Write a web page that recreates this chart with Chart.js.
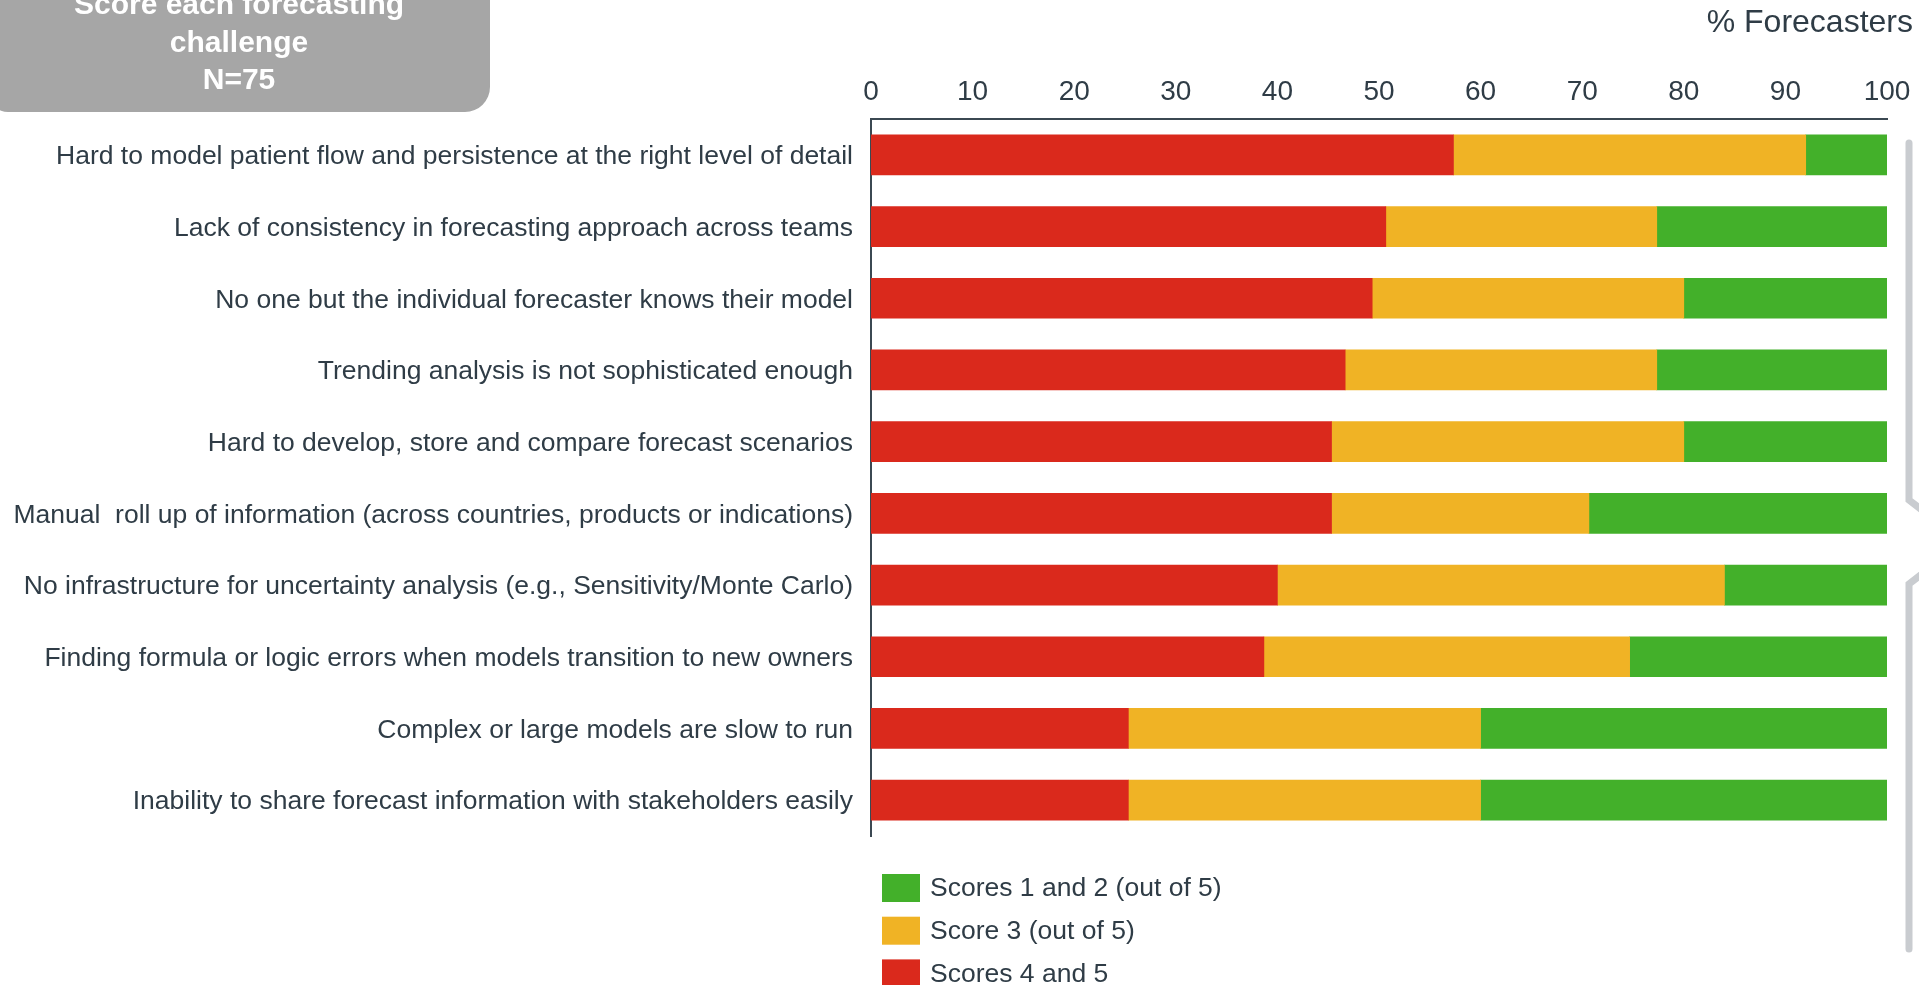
<!DOCTYPE html>
<html>
<head>
<meta charset="utf-8">
<title>Forecasting challenges</title>
<script src="https://cdn.jsdelivr.net/npm/chart.js@4.4.1/dist/chart.umd.min.js"></script>
<style>
  html, body { margin: 0; padding: 0; background: #ffffff; overflow: hidden; }
  #chart { display: block; }
</style>
</head>
<body>
<canvas id="chart" width="1919" height="985"></canvas>
<script>
// Survey data (N=75), % of forecasters per score band
const challenges = [
  'Hard to model patient flow and persistence at the right level of detail',
  'Lack of consistency in forecasting approach across teams',
  'No one but the individual forecaster knows their model',
  'Trending analysis is not sophisticated enough',
  'Hard to develop, store and compare forecast scenarios',
  'Manual  roll up of information (across countries, products or indications)',
  'No infrastructure for uncertainty analysis (e.g., Sensitivity/Monte Carlo)',
  'Finding formula or logic errors when models transition to new owners',
  'Complex or large models are slow to run',
  'Inability to share forecast information with stakeholders easily'
];
const scores45 = [57.33, 50.67, 49.33, 46.67, 45.33, 45.33, 40.0, 38.67, 25.33, 25.33];
const score3 = [34.67, 26.67, 30.67, 30.67, 34.67, 25.33, 44.0, 36.0, 34.67, 34.67];
const scores12 = [8.0, 22.67, 20.0, 22.67, 20.0, 29.33, 16.0, 25.33, 40.0, 40.0];
const xTicks = [0, 10, 20, 30, 40, 50, 60, 70, 80, 90, 100];
const seriesNames = ['Scores 4 and 5', 'Score 3 (out of 5)', 'Scores 1 and 2 (out of 5)'];
const boxLines = ['Score each forecasting', 'challenge', 'N=75'];
const axisTitle = '% Forecasters';

const FONT = "'Liberation Sans', Arial, sans-serif";
const TEXT = '#2f3c46';
const AXIS = '#3b4852';
const RED = '#da291c';
const YELLOW = '#f0b325';
const GREEN = '#43b02a';

// Extra drawing: header box, axis title, legend and the side brace
const decorations = {
  id: 'decorations',
  afterDraw(chart) {
    const ctx = chart.ctx;
    ctx.save();

    // grey header box (top runs off the canvas)
    ctx.fillStyle = '#a6a6a6';
    ctx.beginPath();
    ctx.roundRect(-10, -40, 500, 152, [0, 0, 25, 18]);
    ctx.fill();
    ctx.fillStyle = '#ffffff';
    ctx.font = 'bold 30px ' + FONT;
    ctx.textAlign = 'center';
    ctx.textBaseline = 'alphabetic';
    boxLines.forEach((line, i) => {
      ctx.fillText(line, 239, 14 + i * 37.5);
    });

    // axis title, top right
    ctx.fillStyle = TEXT;
    ctx.font = '32px ' + FONT;
    ctx.textAlign = 'right';
    ctx.textBaseline = 'middle';
    ctx.fillText(axisTitle, 1913, 23);

    // legend, listed top to bottom in reverse stack order
    ctx.font = '26.5px ' + FONT;
    ctx.textAlign = 'left';
    const sets = chart.data.datasets.slice().reverse();
    sets.forEach((ds, i) => {
      const cy = 888 + i * 42.7;
      ctx.fillStyle = ds.backgroundColor;
      ctx.fillRect(882, cy - 14, 38, 28);
      ctx.fillStyle = TEXT;
      ctx.fillText(ds.label, 930, cy + 1);
    });

    // brace on the right edge
    ctx.strokeStyle = '#c9ccd0';
    ctx.lineWidth = 7;
    ctx.lineCap = 'round';
    ctx.lineJoin = 'miter';
    ctx.beginPath();
    ctx.moveTo(1909, 143);
    ctx.lineTo(1909, 500);
    ctx.lineTo(1945, 528);
    ctx.moveTo(1945, 556);
    ctx.lineTo(1909, 584);
    ctx.lineTo(1909, 949);
    ctx.stroke();

    ctx.restore();
  }
};

function buildChart() {
  const ctx = document.getElementById('chart');
  new Chart(ctx, {
    type: 'bar',
    data: {
      labels: challenges,
      datasets: [
        { label: seriesNames[0], data: scores45, backgroundColor: RED },
        { label: seriesNames[1], data: score3, backgroundColor: YELLOW },
        { label: seriesNames[2], data: scores12, backgroundColor: GREEN }
      ]
    },
    options: {
      indexAxis: 'y',
      responsive: false,
      animation: false,
      devicePixelRatio: 1,
      layout: { padding: { left: 0, top: 0, right: 32, bottom: 149 } },
      datasets: { bar: { barThickness: 40, borderWidth: 0 } },
      plugins: {
        legend: { display: false },
        tooltip: { enabled: false },
        title: { display: false }
      },
      scales: {
        x: {
          position: 'top',
          stacked: true,
          min: 0,
          max: 100,
          afterBuildTicks(scale) {
            scale.ticks = xTicks.map(v => ({ value: v }));
          },
          afterFit(scale) {
            scale.height = 119;
            scale.paddingLeft = 0;
            scale.paddingRight = 0;
          },
          grid: { display: false, drawTicks: false },
          border: { display: true, color: AXIS, width: 2 },
          ticks: {
            color: TEXT,
            font: { family: FONT, size: 28 },
            padding: 10,
            maxRotation: 0,
            autoSkip: false
          }
        },
        y: {
          stacked: true,
          afterFit(scale) {
            scale.width = 871;
            scale.paddingTop = 0;
            scale.paddingBottom = 0;
          },
          grid: { display: false, drawTicks: false },
          border: { display: true, color: AXIS, width: 2 },
          ticks: {
            color: TEXT,
            font: { family: FONT, size: 26.5 },
            padding: 18,
            labelOffset: 2,
            autoSkip: false
          }
        }
      }
    },
    plugins: [decorations]
  });
}

document.addEventListener('DOMContentLoaded', buildChart);
</script>
</body>
</html>
